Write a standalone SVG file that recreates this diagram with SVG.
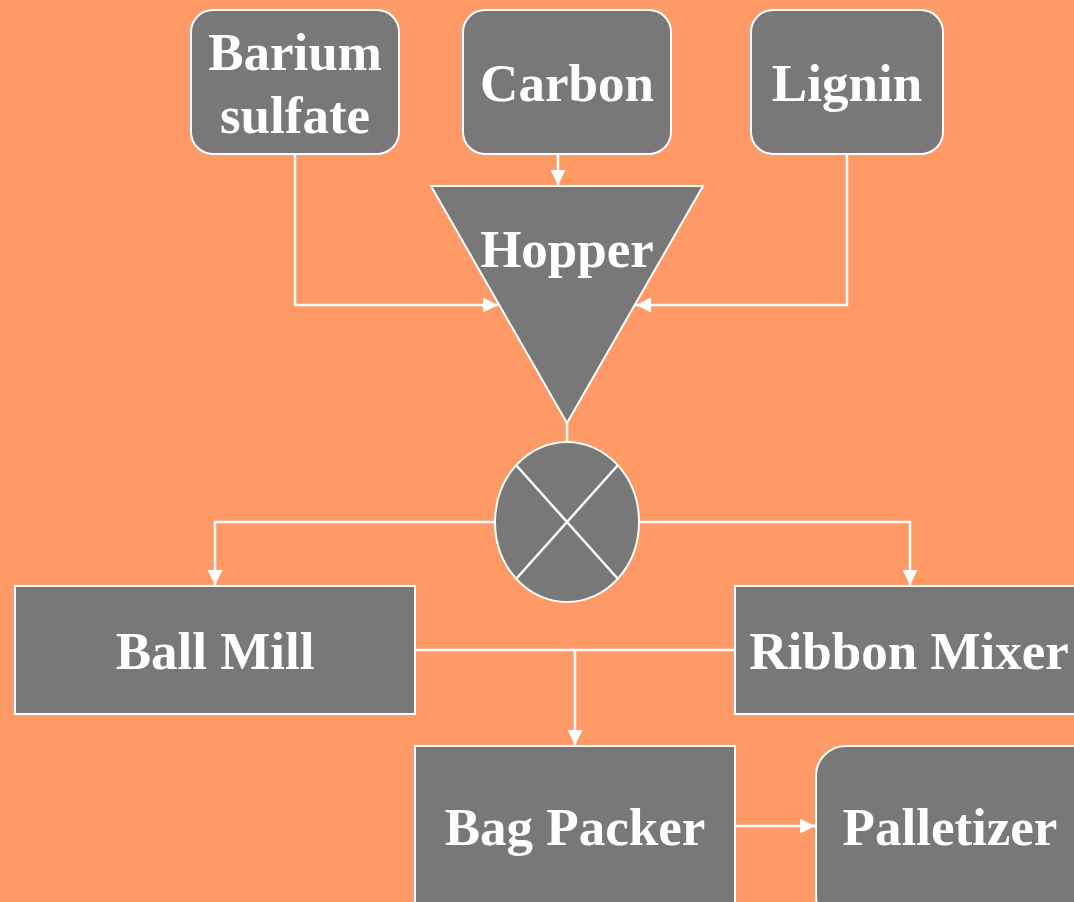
<svg xmlns="http://www.w3.org/2000/svg" width="1074" height="902" viewBox="0 0 1074 902">
<style>
.n{fill:#787878;stroke:#fff;stroke-width:2}
.t{font-family:"Liberation Serif","Times New Roman",serif;font-weight:bold;font-size:53px;fill:#fff;text-anchor:middle}
.c{fill:none;stroke:#fff;stroke-width:2.5}
</style>
<defs>
<marker id="a" viewBox="0 0 10 10" refX="10" refY="5" markerWidth="6" markerHeight="6" orient="auto" markerUnits="strokeWidth">
<path d="M0,0 L10,5 L0,10 Z" fill="#fff"/>
</marker>
</defs>
<rect width="1074" height="902" fill="#FF9966"/>
<g id="connectors">
<path class="c" d="M558,154 V185" marker-end="url(#a)"/>
<path class="c" d="M295,154 V305 H498" marker-end="url(#a)"/>
<path class="c" d="M847,154 V305 H636" marker-end="url(#a)"/>
<path class="c" d="M567,423 V442"/>
<path class="c" d="M495,522 H215 V585" marker-end="url(#a)"/>
<path class="c" d="M639,522 H910 V585" marker-end="url(#a)"/>
<path class="c" d="M415,650 H735"/>
<path class="c" d="M575,650 V745" marker-end="url(#a)"/>
<path class="c" d="M735,826 H815" marker-end="url(#a)"/>
</g>
<g id="barium">
<rect class="n" x="191" y="10" width="208" height="144" rx="22"/>
<text class="t" x="295" y="70">Barium</text>
<text class="t" x="295" y="133">sulfate</text>
</g>
<g id="carbon">
<rect class="n" x="463" y="10" width="208" height="144" rx="22"/>
<text class="t" x="567" y="101">Carbon</text>
</g>
<g id="lignin">
<rect class="n" x="751" y="10" width="192" height="144" rx="22"/>
<text class="t" x="847" y="101">Lignin</text>
</g>
<g id="hopper">
<polygon class="n" points="431,186 703,186 567,423"/>
<text class="t" x="567" y="267">Hopper</text>
</g>
<g id="valve">
<ellipse class="n" cx="567" cy="522" rx="72" ry="80"/>
<path d="M516,465 L618,579 M618,465 L516,579" stroke="#fff" stroke-width="2.5"/>
</g>
<g id="ballmill">
<rect class="n" x="15" y="586" width="400" height="128"/>
<text class="t" x="215" y="669">Ball Mill</text>
</g>
<g id="ribbonmixer">
<rect class="n" x="735" y="586" width="360" height="128"/>
<text class="t" x="909" y="669">Ribbon Mixer</text>
</g>
<g id="bagpacker">
<rect class="n" x="415" y="746" width="320" height="180"/>
<text class="t" x="575" y="845">Bag Packer</text>
</g>
<g id="palletizer">
<rect class="n" x="816" y="746" width="300" height="180" rx="30"/>
<text class="t" x="950" y="845">Palletizer</text>
</g>
</svg>
